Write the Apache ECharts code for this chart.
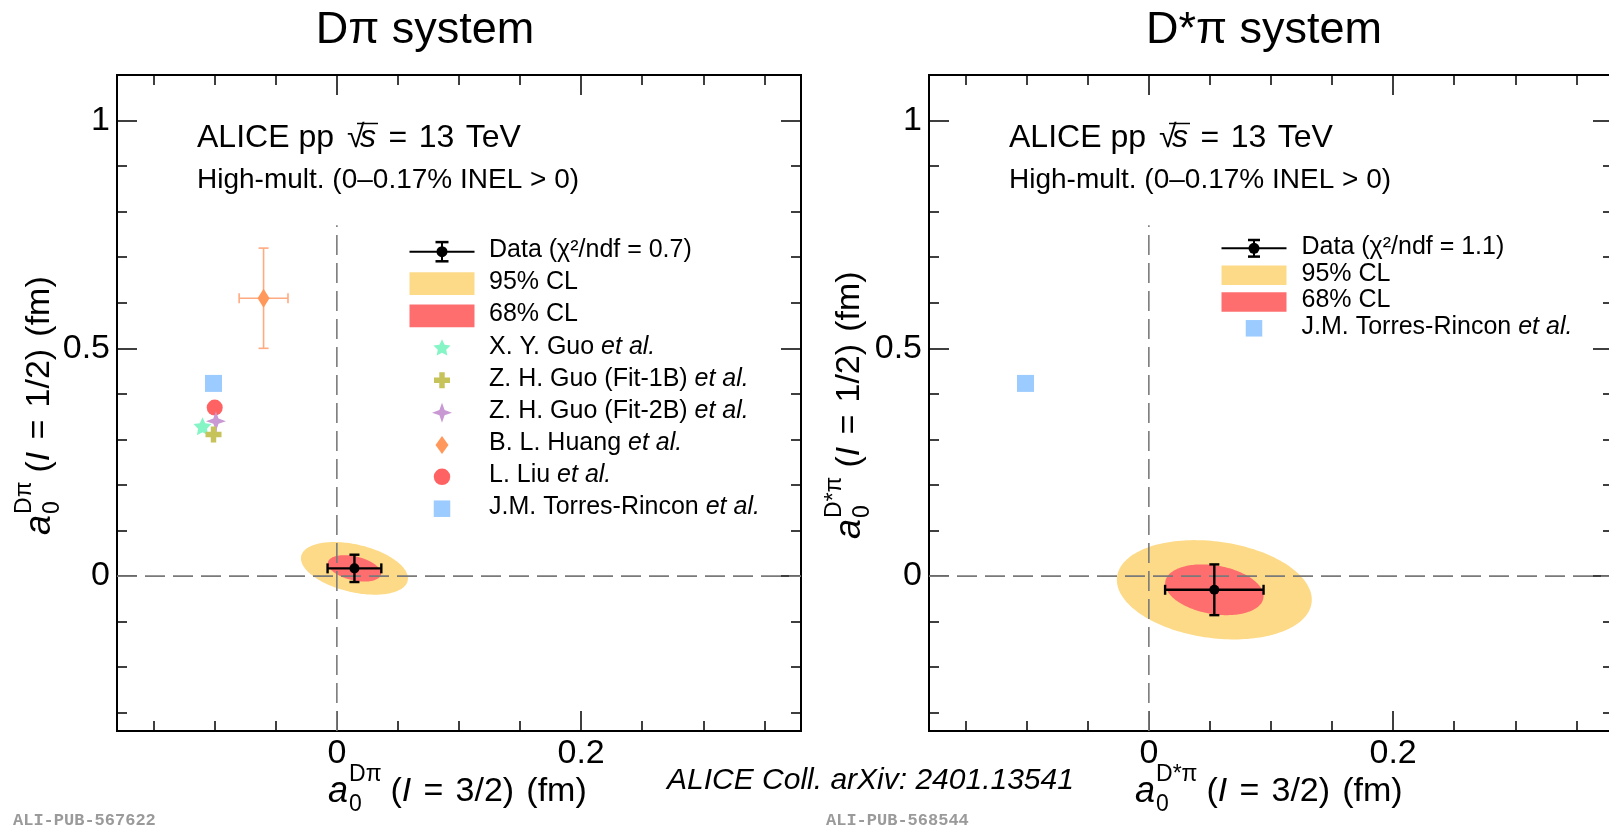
<!DOCTYPE html>
<html><head><meta charset="utf-8">
<script src="https://cdn.jsdelivr.net/npm/echarts@6/dist/echarts.min.js"></script>
<style>html,body{margin:0;padding:0;background:#fff}#c{width:1609px;height:826px}</style>
</head><body><div id="c"></div>
<script>
// ---------------- data ----------------
const xRange = [-0.18, 0.38];
const yRange = [-0.34, 1.10];
const xMajorTicks = [0, 0.2];
const xMinorTicks = [-0.15, -0.1, -0.05, 0.05, 0.1, 0.15, 0.25, 0.3, 0.35];
const yMajorTicks = [0, 0.5, 1];
const yMinorTicks = [-0.3, -0.2, -0.1, 0.1, 0.2, 0.3, 0.4, 0.6, 0.7, 0.8, 0.9];
const vLineTop = 0.77;           // top end of the vertical x=0 reference line
const zeroLine = 0;

// D pi system: [x, y, xerr, yerr]
const dpiData = [[0.0144, 0.017, 0.022, 0.030]];
// CL contours: [cx, cy, sigmaX-extent, sigmaY-extent, correlation]
const dpiCL68 = [0.0144, 0.017, 0.0218, 0.029, -0.38];
const dpiCL95 = [0.0144, 0.017, 0.0438, 0.0578, -0.38];
const xyGuo = [[-0.110, 0.329]];
const zhGuo1B = [[-0.101, 0.311]];
const zhGuo2B = [[-0.099, 0.340, 0, 0.031]];
const blHuang = [[-0.060, 0.610, 0.020, 0.110]];
const lLiu = [[-0.100, 0.370]];
const torresDpi = [[-0.101, 0.423]];

// D* pi system
const dstarpiData = [[0.0536, -0.030, 0.0403, 0.0557]];
const dstarpiCL68 = [0.0536, -0.030, 0.0403, 0.0557, -0.25];
const dstarpiCL95 = [0.0536, -0.030, 0.0798, 0.109, -0.20];
const torresDstarpi = [[-0.101, 0.423]];

// texts
const panelTitles = ['D\u03c0 system', 'D*\u03c0 system'];
const dpiLegendLabels = ['Data (\u03c7\u00b2/ndf = 0.7)', '95% CL', '68% CL', 'X. Y. Guo', 'Z. H. Guo (Fit-1B)', 'Z. H. Guo (Fit-2B)', 'B. L. Huang', 'L. Liu', 'J.M. Torres-Rincon'];
const dstarpiLegendLabels = ['Data (\u03c7\u00b2/ndf = 1.1)', '95% CL', '68% CL', 'J.M. Torres-Rincon'];

// ---------------- styles ----------------
const FAM = '"Liberation Sans", Arial, Helvetica, sans-serif';
const COL = {cl95:'#FDDA88', cl68:'#FF6E6E', xy:'#86F5C6', z1:'#C6C35A', z2:'#C899D3', hu:'#FF985A', huErr:'#FFAA80', liu:'#FF6262', tr:'#9BCBFF', dash:'#7a7a7a'};
// marker outlines in a [-10,10] box
const SH_STAR5 = [[0,-10],[2.9,-3.9],[9.5,-3.1],[4.7,1.5],[5.9,8.1],[0,5],[-5.9,8.1],[-4.7,1.5],[-9.5,-3.1],[-2.9,-3.9]];
const SH_STAR4 = [[0,-10],[2.6,-2.6],[10,0],[2.6,2.6],[0,10],[-2.6,2.6],[-10,0],[-2.6,-2.6]];
const SH_PLUS = [[-3.4,-10],[3.4,-10],[3.4,-3.4],[10,-3.4],[10,3.4],[3.4,3.4],[3.4,10],[-3.4,10],[-3.4,3.4],[-10,3.4],[-10,-3.4],[-3.4,-3.4]];
const toPath = pts => 'path://M' + pts.map(p => p[0] + ',' + p[1]).join('L') + 'Z';

const mctx = document.createElement('canvas').getContext('2d');
function tw(txt, font) { mctx.font = font; return mctx.measureText(txt).width; }

const gridBoxes = [
  {left: 117, top: 75, width: 684, height: 656},
  {left: 929, top: 75, width: 684, height: 656}
];

function xAx(gi, pos, vals, len, labels) {
  return {type:'value', gridIndex:gi, position:pos, min:xRange[0], max:xRange[1],
    axisLine:{show:false, onZero:false}, splitLine:{show:false},
    axisTick:{show:true, inside:true, length:len, customValues:vals, lineStyle:{color:'#000', width:1.5}},
    axisLabel: labels ? {show:true, customValues:vals, margin:6, fontSize:34, color:'#000', fontFamily:FAM,
      formatter: v => String(+(+v).toFixed(3))} : {show:false}};
}
function yAx(gi, pos, vals, len, labels) {
  return {type:'value', gridIndex:gi, position:pos, min:yRange[0], max:yRange[1],
    axisLine:{show:false, onZero:false}, splitLine:{show:false},
    axisTick:{show:true, inside:true, length:len, customValues:vals, lineStyle:{color:'#000', width:1.5}},
    axisLabel: labels ? {show:true, customValues:vals, margin:7, fontSize:34, color:'#000', fontFamily:FAM,
      formatter: v => String(+(+v).toFixed(3))} : {show:false}};
}
const xAxes = [], yAxes = [];
[0, 1].forEach(gi => {
  xAxes.push(xAx(gi,'bottom',xMajorTicks,20,true), xAx(gi,'bottom',xMinorTicks,10,false),
             xAx(gi,'top',xMajorTicks,20,false), xAx(gi,'top',xMinorTicks,10,false));
  yAxes.push(yAx(gi,'left',yMajorTicks,20,true), yAx(gi,'left',yMinorTicks,10,false),
             yAx(gi,'right',yMajorTicks,20,false), yAx(gi,'right',yMinorTicks,10,false));
});

function ellipseSeries(p, color, gi, z) {
  return {type:'custom', xAxisIndex:gi*4, yAxisIndex:gi*4, z, silent:true, data:[p],
    renderItem(params, api) {
      const [cx, cy, sx, sy, r] = p; const q = Math.sqrt(1 - r*r); const pts = [];
      for (let i = 0; i < 180; i++) {
        const t = 2*Math.PI*i/180;
        pts.push(api.coord([cx + sx*Math.cos(t), cy + sy*(r*Math.cos(t) + q*Math.sin(t))]));
      }
      return {type:'polygon', shape:{points:pts}, style:{fill:color}};
    }};
}
function errSeries(data, color, lw, cap, gi, z) {
  return {type:'custom', xAxisIndex:gi*4, yAxisIndex:gi*4, z, silent:true, data,
    renderItem(params, api) {
      const x = api.value(0), y = api.value(1), ex = api.value(2), ey = api.value(3);
      const st = {stroke:color, lineWidth:lw}; const ch = [];
      const L = (x1,y1,x2,y2) => ch.push({type:'line', shape:{x1,y1,x2,y2}, style:st});
      if (ex > 0) { const a = api.coord([x-ex,y]), b = api.coord([x+ex,y]);
        L(a[0],a[1],b[0],b[1]); L(a[0],a[1]-cap,a[0],a[1]+cap); L(b[0],b[1]-cap,b[0],b[1]+cap); }
      if (ey > 0) { const a = api.coord([x,y-ey]), b = api.coord([x,y+ey]);
        L(a[0],a[1],b[0],b[1]); L(a[0]-cap,a[1],a[0]+cap,a[1]); L(b[0]-cap,b[1],b[0]+cap,b[1]); }
      return {type:'group', children:ch};
    }};
}
function scat(data, symbol, size, color, gi, z, name) {
  return {type:'scatter', name, xAxisIndex:gi*4, yAxisIndex:gi*4, z, silent:true, data, symbol, symbolSize:size,
    itemStyle:{color, opacity:1}};
}
function dashSeries(gi) {
  const ls = {color:COL.dash, width:1.6, type:[20,8]};
  return [
    {type:'line', xAxisIndex:gi*4, yAxisIndex:gi*4, z:3, silent:true, symbol:'none', lineStyle:ls,
     data:[[zeroLine, yRange[0]], [zeroLine, vLineTop]]},
    {type:'line', xAxisIndex:gi*4, yAxisIndex:gi*4, z:3, silent:true, symbol:'none', lineStyle:ls,
     data:[[xRange[0], zeroLine], [xRange[1], zeroLine]]}
  ];
}

const series = [
  ellipseSeries(dpiCL95, COL.cl95, 0, 1), ellipseSeries(dpiCL68, COL.cl68, 0, 2),
  ...dashSeries(0),
  errSeries(blHuang, COL.huErr, 1.6, 5, 0, 4),
  scat(blHuang.map(d => [d[0], d[1]]), 'diamond', [12, 19], COL.hu, 0, 5, 'B. L. Huang'),
  scat(torresDpi, 'rect', 17, COL.tr, 0, 5, 'J.M. Torres-Rincon'),
  scat(lLiu, 'circle', 16, COL.liu, 0, 5, 'L. Liu'),
  errSeries(zhGuo2B, COL.z2, 1.6, 5, 0, 5),
  scat(zhGuo2B.map(d => [d[0], d[1]]), toPath(SH_STAR4), 20, COL.z2, 0, 5, 'Z. H. Guo (Fit-2B)'),
  scat(xyGuo, toPath(SH_STAR5), 18, COL.xy, 0, 5, 'X. Y. Guo'),
  scat(zhGuo1B, toPath(SH_PLUS), 16, COL.z1, 0, 6, 'Z. H. Guo (Fit-1B)'),
  errSeries(dpiData, '#000', 2.4, 5, 0, 7),
  scat(dpiData.map(d => [d[0], d[1]]), 'circle', 10, '#000', 0, 8, 'Data'),

  ellipseSeries(dstarpiCL95, COL.cl95, 1, 1), ellipseSeries(dstarpiCL68, COL.cl68, 1, 2),
  ...dashSeries(1),
  scat(torresDstarpi, 'rect', 17, COL.tr, 1, 5, 'J.M. Torres-Rincon'),
  errSeries(dstarpiData, '#000', 2.4, 5, 1, 7),
  scat(dstarpiData.map(d => [d[0], d[1]]), 'circle', 10, '#000', 1, 8, 'Data')
];

// ---------------- graphics (texts, legends) ----------------
const G = [];
function txt(x, y, text, size, opts) {
  return Object.assign({type:'text', x, y, silent:true, z:100,
    style:Object.assign({text, fontSize:size, fontFamily:FAM, fill:'#000', align:'left', verticalAlign:'middle'}, opts || {})});
}
// panel titles
G.push(txt(425, 31, panelTitles[0], 45, {align:'center'}));
G.push(txt(1264, 31, panelTitles[1], 45, {align:'center'}));

// ALICE headers
function header(x0) {
  const rich = {
    a:{fontSize:32, fontFamily:FAM, fill:'#000', width:150},
    r:{fontSize:32, fontFamily:FAM, fill:'#000', width:13},
    s:{fontSize:32, fontFamily:FAM, fill:'#000', fontStyle:'italic', width:17},
    n:{fontSize:32, fontFamily:FAM, fill:'#000'},
    w:{fontSize:32, fontFamily:FAM, fill:'#000', width:11.5}
  };
  G.push({type:'text', x:x0, y:138.5, silent:true, z:100,
    style:{text:'{a|ALICE pp}{r|\u221a}{s|s}{w| }{n|=}{w| }{n|13}{w| }{n|TeV}', rich, verticalAlign:'middle', align:'left'}});
  G.push({type:'line', silent:true, z:100, shape:{x1:x0+160, y1:123.5, x2:x0+181, y2:123.5}, style:{stroke:'#000', lineWidth:1.5}});
  G.push(txt(x0, 180, 'High-mult. (0\u20130.17% INEL > 0)', 28));
}
header(197); header(1009);

// legends
function legend(labels, kinds, x1, x2, tx, rows, boxH, dataHalf, capW) {
  const xc = (x1 + x2) / 2;
  labels.forEach((lab, i) => {
    const y = rows[i]; const k = kinds[i];
    if (k.t === 'data') {
      G.push({type:'line', silent:true, z:100, shape:{x1, y1:y, x2, y2:y}, style:{stroke:'#000', lineWidth:2}});
      G.push({type:'line', silent:true, z:100, shape:{x1:xc, y1:y-dataHalf, x2:xc, y2:y+dataHalf}, style:{stroke:'#000', lineWidth:2}});
      G.push({type:'line', silent:true, z:100, shape:{x1:xc-capW, y1:y-dataHalf, x2:xc+capW, y2:y-dataHalf}, style:{stroke:'#000', lineWidth:2.5}});
      G.push({type:'line', silent:true, z:100, shape:{x1:xc-capW, y1:y+dataHalf, x2:xc+capW, y2:y+dataHalf}, style:{stroke:'#000', lineWidth:2.5}});
      G.push({type:'circle', silent:true, z:101, shape:{cx:xc, cy:y, r:5.5}, style:{fill:'#000'}});
    } else if (k.t === 'box') {
      G.push({type:'rect', silent:true, z:100, shape:{x:x1, y:y-boxH/2, width:x2-x1, height:boxH}, style:{fill:k.c}});
    } else if (k.t === 'circle') {
      G.push({type:'circle', silent:true, z:100, shape:{cx:xc, cy:y, r:k.s/2}, style:{fill:k.c}});
    } else if (k.t === 'rect') {
      G.push({type:'rect', silent:true, z:100, shape:{x:xc-k.s/2, y:y-k.s/2, width:k.s, height:k.s}, style:{fill:k.c}});
    } else if (k.t === 'diamond') {
      G.push({type:'polygon', silent:true, z:100, shape:{points:[[xc, y-9], [xc+6.5, y], [xc, y+9], [xc-6.5, y]]}, style:{fill:k.c}});
    } else if (k.t === 'shape') {
      const f = k.s / 20;
      G.push({type:'polygon', silent:true, z:100, shape:{points:k.p.map(q => [xc + q[0]*f, y + q[1]*f])}, style:{fill:k.c}});
    }
    const rich = {n:{fontSize:25, fontFamily:FAM, fill:'#000'}, i:{fontSize:25, fontFamily:FAM, fill:'#000', fontStyle:'italic'}};
    const text = k.etal ? '{n|' + lab + ' }{i|et al.}' : '{n|' + lab + '}';
    G.push({type:'text', x:tx, y:y-1.5, silent:true, z:100, style:{text, rich, align:'left', verticalAlign:'middle'}});
  });
}
legend(dpiLegendLabels,
  [{t:'data'}, {t:'box', c:COL.cl95}, {t:'box', c:COL.cl68},
   {t:'shape', p:SH_STAR5, s:18, c:COL.xy, etal:1}, {t:'shape', p:SH_PLUS, s:16, c:COL.z1, etal:1},
   {t:'shape', p:SH_STAR4, s:20, c:COL.z2, etal:1}, {t:'diamond', c:COL.hu, etal:1},
   {t:'circle', s:16.5, c:COL.liu, etal:1}, {t:'rect', s:16.5, c:COL.tr, etal:1}],
  409.5, 474.5, 489, [251.7, 283.7, 315.8, 348.3, 380.3, 412.7, 445, 476.8, 508.7], 22.7, 9.6, 6.5);
legend(dstarpiLegendLabels,
  [{t:'data'}, {t:'box', c:COL.cl95}, {t:'box', c:COL.cl68}, {t:'rect', s:16.5, c:COL.tr, etal:1}],
  1221.5, 1286.5, 1301.5, [248.3, 275.3, 302, 328.3], 19.4, 8.3, 6);

// axis titles
function axisTitle(x, y, rot, sup, iso, supOff) {
  const aw = tw('a', 'italic 36px ' + FAM);
  const sw = tw(sup, '23px ' + FAM);
  const restX = aw + 1 + sw + 9;
  const rich = {n:{fontSize:34, fontFamily:FAM, fill:'#000'}, i:{fontSize:34, fontFamily:FAM, fill:'#000', fontStyle:'italic'},
                w:{fontSize:34, fontFamily:FAM, fill:'#000', width:12.2}};
  return {type:'group', x, y, rotation:rot, silent:true, z:100, children:[
    {type:'text', x:0, y:0, style:{text:'a', fontSize:36, fontStyle:'italic', fontFamily:FAM, fill:'#000', verticalAlign:'middle', align:'left'}},
    {type:'text', x:aw+1, y:supOff, style:{text:sup, fontSize:23, fontFamily:FAM, fill:'#000', verticalAlign:'middle', align:'left'}},
    {type:'text', x:aw+1, y:13, style:{text:'0', fontSize:23, fontFamily:FAM, fill:'#000', verticalAlign:'middle', align:'left'}},
    {type:'text', x:restX, y:0, style:{text:'{n|(}{i|I}{w| }{n|=}{w| }{n|' + iso + ')}{w| }{n|(fm)}', rich, verticalAlign:'middle', align:'left'}}
  ]};
}
G.push(axisTitle(328, 791.5, 0, 'D\u03c0', '3/2', -17));
G.push(axisTitle(1135, 791.5, 0, 'D*\u03c0', '3/2', -17));
G.push(axisTitle(40, 535, Math.PI/2, 'D\u03c0', '1/2', -15));
G.push(axisTitle(850, 539, Math.PI/2, 'D*\u03c0', '1/2', -15));

// bottom texts
G.push(txt(667, 781, 'ALICE Coll. arXiv: 2401.13541', 30, {fontStyle:'italic'}));
G.push(txt(13, 821, 'ALI-PUB-567622', 17, {fontFamily:'"Liberation Mono", "DejaVu Sans Mono", monospace', fontWeight:'bold', fill:'#9a9a9a'}));
G.push(txt(826, 821, 'ALI-PUB-568544', 17, {fontFamily:'"Liberation Mono", "DejaVu Sans Mono", monospace', fontWeight:'bold', fill:'#9a9a9a'}));

const chart = echarts.init(document.getElementById('c'), null, {renderer:'canvas'});
chart.setOption({
  animation:false,
  backgroundColor:'#fff',
  grid: gridBoxes.map(g => Object.assign({}, g, {show:true, borderColor:'#000', borderWidth:2, backgroundColor:'transparent', containLabel:false, outerBoundsMode:'none'})),
  xAxis: xAxes,
  yAxis: yAxes,
  series,
  graphic: G
});
</script></body></html>
